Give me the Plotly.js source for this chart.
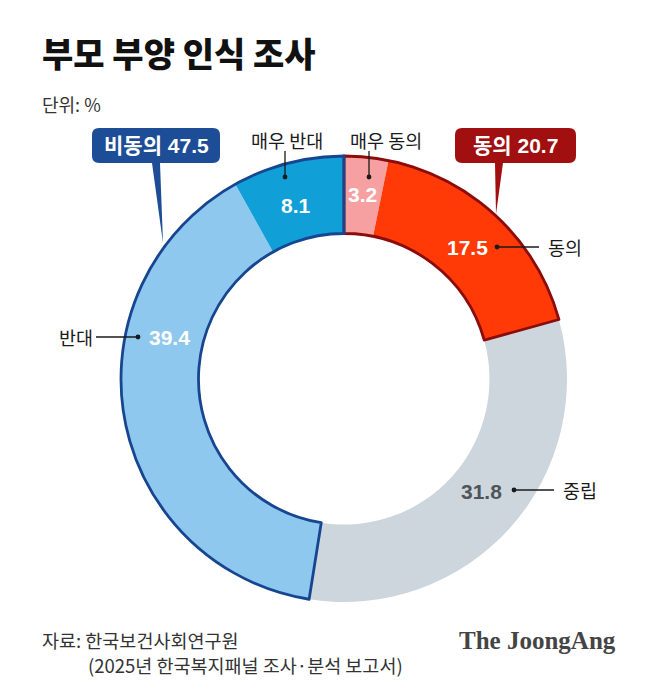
<!DOCTYPE html>
<html>
<head>
<meta charset="utf-8">
<script src="https://cdn.plot.ly/plotly-3.0.1.min.js"></script>
<style>
html,body{margin:0;padding:0;background:#fff;}
#chart{width:658px;height:690px;}
</style>
</head>
<body>
<div id="chart"></div>
<script>
// ---- data ----
const sliceLabels = ['매우 동의', '동의', '중립', '반대', '매우 반대'];
const sliceValues = [3.2, 17.5, 31.8, 39.4, 8.1];
const sliceColors = ['#f7a0a2', '#ff3a06', '#cdd6dd', '#8fc8ef', '#109fd7'];
const valueColors = ['#ffffff', '#ffffff', '#4f545b', '#ffffff', '#ffffff'];

const groupLabels = ['동의', '중립', '비동의'];
const groupValues = [20.7, 31.8, 47.5];
const groupLineColors = ['#8c0b0b', 'rgba(0,0,0,0)', '#174691'];

const titleText = '부모 부양 인식 조사';
const unitText = '단위: %';
const sourceLine1 = '자료: 한국보건사회연구원';
const sourceLine2 = '(2025년 한국복지패널 조사·분석 보고서)';
const brandText = 'The JoongAng';

// ---- layout helpers ----
const W = 658, H = 690;
const px = x => x / W;
const py = y => 1 - y / H;
const cx = 344, cy = 379, R = 223, rIn = 145.5;
const domain = {x: [px(cx - R), px(cx + R)], y: [py(cy + R), py(cy - R)]};
const hole = rIn / R;

const KR = '"Noto Sans CJK KR", "Noto Sans", sans-serif';
const NUM = '"Liberation Sans", "Noto Sans CJK KR", sans-serif';

const traces = [
  {
    type: 'pie',
    labels: sliceLabels,
    values: sliceValues,
    sort: false,
    direction: 'clockwise',
    rotation: 0,
    hole: hole,
    domain: domain,
    marker: {colors: sliceColors, line: {width: 0}},
    textinfo: 'none',
    hoverinfo: 'skip',
    showlegend: false
  },
  {
    type: 'pie',
    labels: groupLabels,
    values: groupValues,
    sort: false,
    direction: 'clockwise',
    rotation: 0,
    hole: hole,
    domain: domain,
    marker: {colors: groupLabels.map(() => 'rgba(0,0,0,0)'),
             line: {color: groupLineColors, width: 2.8}},
    textinfo: 'none',
    hoverinfo: 'skip',
    showlegend: false
  }
];

function boxPath(x0, y0, x1, y1, r, pa, pb, tx, ty) {
  const P = (x, y) => px(x) + ',' + py(y);
  return 'M' + P(x0 + r, y0) + ' L' + P(x1 - r, y0) + ' Q' + P(x1, y0) + ' ' + P(x1, y0 + r) +
    ' L' + P(x1, y1 - r) + ' Q' + P(x1, y1) + ' ' + P(x1 - r, y1) +
    ' L' + P(pb, y1) + ' L' + P(tx, ty) + ' L' + P(pa, y1) +
    ' L' + P(x0 + r, y1) + ' Q' + P(x0, y1) + ' ' + P(x0, y1 - r) +
    ' L' + P(x0, y0 + r) + ' Q' + P(x0, y0) + ' ' + P(x0 + r, y0) + ' Z';
}

const shapes = [];
shapes.push({type: 'path', xref: 'paper', yref: 'paper',
  path: boxPath(92, 128, 220, 163, 7, 152, 160, 163, 243),
  fillcolor: '#1d4d97', line: {width: 0}});
shapes.push({type: 'path', xref: 'paper', yref: 'paper',
  path: boxPath(455, 128, 576, 163, 7, 495, 503, 496, 214),
  fillcolor: '#a10f10', line: {width: 0}});

function lineShape(x0, y0, x1, y1) {
  return {type: 'line', xref: 'paper', yref: 'paper', x0: px(x0), y0: py(y0), x1: px(x1), y1: py(y1),
          line: {color: '#1a1a1a', width: 1.3}};
}
function dotShape(x, y) {
  const d = 2.4;
  return {type: 'circle', xref: 'paper', yref: 'paper', x0: px(x - d), y0: py(y + d), x1: px(x + d), y1: py(y - d),
          fillcolor: '#1a1a1a', line: {width: 0}};
}
// callouts: 매우 반대, 매우 동의, 동의, 중립, 반대
shapes.push(lineShape(285, 151, 285, 176), dotShape(285, 177));
shapes.push(lineShape(369, 151, 369, 176), dotShape(369, 177));
shapes.push(lineShape(497, 247, 539, 247), dotShape(497, 247));
shapes.push(lineShape(514, 490, 554, 490), dotShape(514, 490));
shapes.push(lineShape(96, 337, 138, 337), dotShape(138, 337));

function ann(text, x, y, opts) {
  return Object.assign({text: text, xref: 'paper', yref: 'paper', x: px(x), y: py(y),
    xanchor: 'center', yanchor: 'middle', showarrow: false,
    font: {family: KR, size: 18.5, color: '#1a1a1a'}}, opts || {});
}

const valuePos = [[362, 195], [467, 247], [481, 491], [169, 337], [296, 205]];
const annotations = [];
sliceValues.forEach((v, i) => {
  annotations.push(ann(v.toFixed(1), valuePos[i][0], valuePos[i][1],
    {font: {family: NUM, size: 21, color: valueColors[i], weight: 'bold'}}));
});

// category callout labels
annotations.push(ann(sliceLabels[4], 287, 140));
annotations.push(ann(sliceLabels[0], 386, 140));
annotations.push(ann(sliceLabels[1], 546, 247, {xanchor: 'left'}));
annotations.push(ann(groupLabels[1], 561, 490, {xanchor: 'left'}));
annotations.push(ann(sliceLabels[3], 95, 337, {xanchor: 'right'}));

// group boxes
annotations.push(ann(groupLabels[2] + ' ' + groupValues[2].toFixed(1), 156, 146,
  {font: {family: NUM, size: 21, color: '#ffffff', weight: 'bold'}}));
annotations.push(ann(groupLabels[0] + ' ' + groupValues[0].toFixed(1), 515, 146,
  {font: {family: NUM, size: 21, color: '#ffffff', weight: 'bold'}}));

// title, unit, source, brand
annotations.push(ann(titleText, 40, 53, {xanchor: 'left',
  font: {family: KR, size: 34, color: '#111111', weight: 900}}));
annotations.push(ann(unitText, 40, 104, {xanchor: 'left',
  font: {family: KR, size: 18, color: '#333333'}}));
annotations.push(ann(sourceLine1, 40, 640, {xanchor: 'left',
  font: {family: KR, size: 18.5, color: '#333333'}}));
annotations.push(ann(sourceLine2, 86, 665, {xanchor: 'left',
  font: {family: KR, size: 18.5, color: '#333333'}}));
annotations.push(ann(brandText, 618, 640, {xanchor: 'right',
  font: {family: '"Liberation Serif", "DejaVu Serif", serif', size: 25, color: '#444444', weight: 'bold'}}));

const layout = {
  width: W, height: H,
  margin: {l: 0, r: 0, t: 0, b: 0},
  paper_bgcolor: '#ffffff',
  plot_bgcolor: '#ffffff',
  showlegend: false,
  shapes: shapes,
  annotations: annotations
};

Plotly.newPlot('chart', traces, layout, {displayModeBar: false, staticPlot: true});
</script>
</body>
</html>
